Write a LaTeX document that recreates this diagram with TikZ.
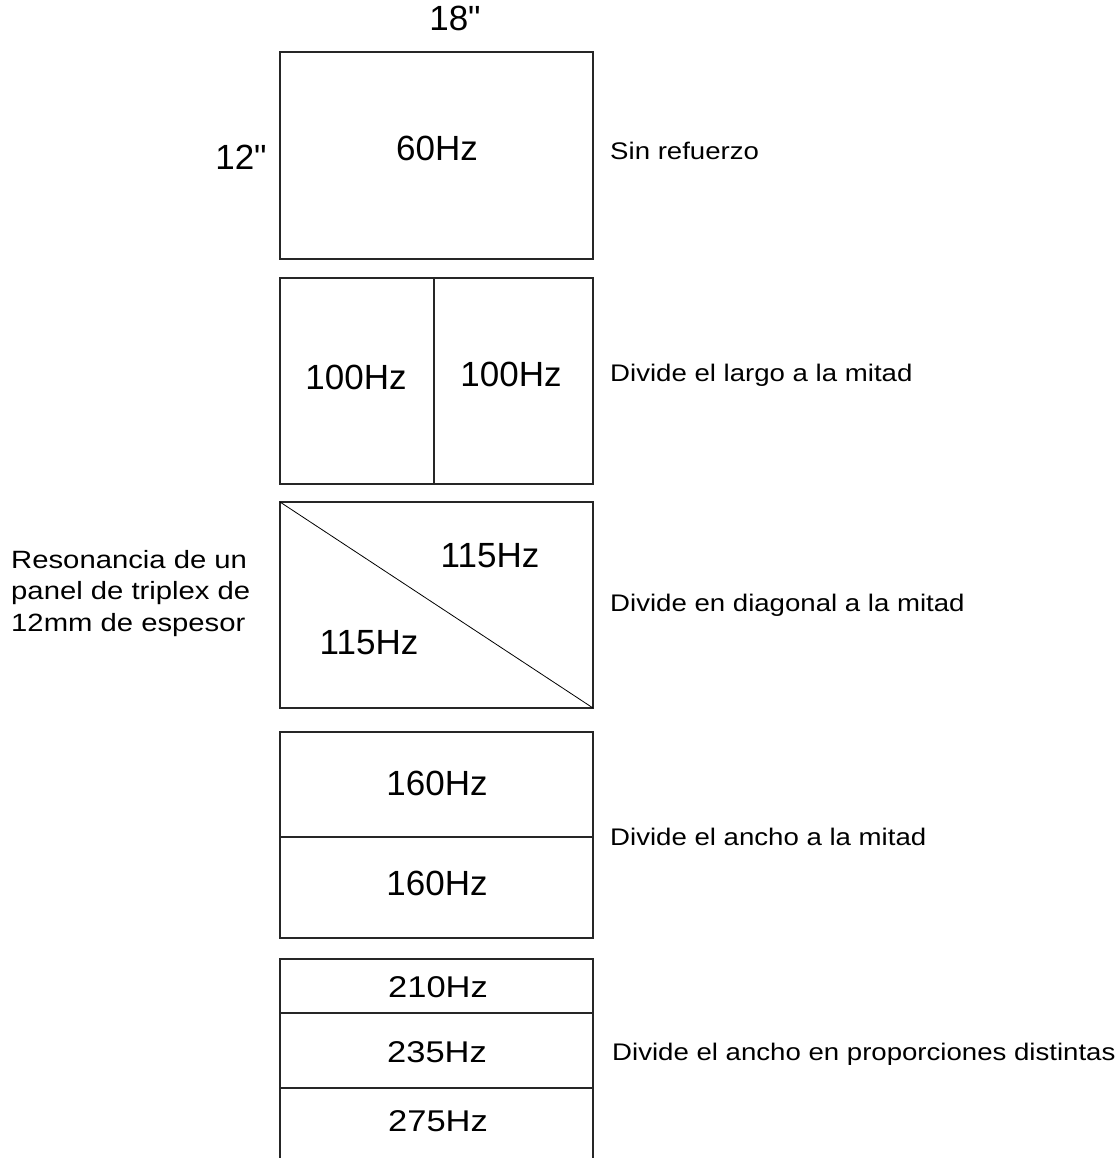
\documentclass[tikz,border=0pt]{standalone}
\usepackage{fontspec}
\setmainfont{Liberation Sans}
\newfontfamily\qfont{Liberation Sans}[Ligatures=TeXOff]
\begin{document}
\begin{tikzpicture}[x=1pt,y=-1pt,
  panel/.style={draw=black!85,line width=1.6pt},
  divline/.style={draw=black!85,line width=1.4pt},
  hz/.style={font=\fontsize{35}{38}\selectfont,inner sep=0pt},
  hzs/.style={font=\fontsize{30}{34}\selectfont,inner sep=0pt,xscale=1.15},
  side/.style={font=\fontsize{24}{28}\selectfont,inner sep=0pt,anchor=west,xscale=1.15}]
\useasboundingbox (0,0) rectangle (1119,1158);
\fill[white] (0,0) rectangle (1119,1158);
% panel 1
\draw[panel] (280,52) rectangle (593,259);
\node[hz] (d18) at (455,18) {\qfont 18"};
\node[hz] (d12) at (241,157) {\qfont 12"};
\node[hz] (f60) at (437,148) {60Hz};
\node[side] (t1) at (610,151) {Sin refuerzo};
% panel 2
\draw[panel] (280,278) rectangle (593,484);
\draw[divline] (434,278) -- (434,484);
\node[hz] (f100a) at (356,377) {100Hz};
\node[hz] (f100b) at (511,374) {100Hz};
\node[side] (t2) at (610,375) {Divide el largo a la mitad};
% panel 3
\draw[panel] (280,502) rectangle (593,708);
\draw[black,line width=0.8pt] (280,502) -- (593,708);
\node[hz] (f115a) at (490,556) {115Hz};
\node[hz] (f115b) at (369,643) {115Hz};
\node[side] (t3) at (610,605) {Divide en diagonal a la mitad};
\node[font=\fontsize{25}{31.5}\selectfont,inner sep=0pt,anchor=north west,align=left,xscale=1.17] (res) at (11,550) {Resonancia de un\\panel de triplex de\\12mm de espesor};
% panel 4
\draw[panel] (280,732) rectangle (593,938);
\draw[divline] (280,837) -- (593,837);
\node[hz] (f160a) at (437,783) {160Hz};
\node[hz] (f160b) at (437,883) {160Hz};
\node[side] (t4) at (610,837) {Divide el ancho a la mitad};
% panel 5
\draw[panel] (280,1160) -- (280,959) -- (593,959) -- (593,1160);
\draw[divline] (280,1013) -- (593,1013);
\draw[divline] (280,1088) -- (593,1088);
\node[hzs] (f210) at (438,987) {210Hz};
\node[hzs] (f235) at (437,1052) {235Hz};
\node[hzs] (f275) at (438,1121) {275Hz};
\node[side] (t5) at (612,1054) {Divide el ancho en proporciones distintas};
\end{tikzpicture}
\end{document}
